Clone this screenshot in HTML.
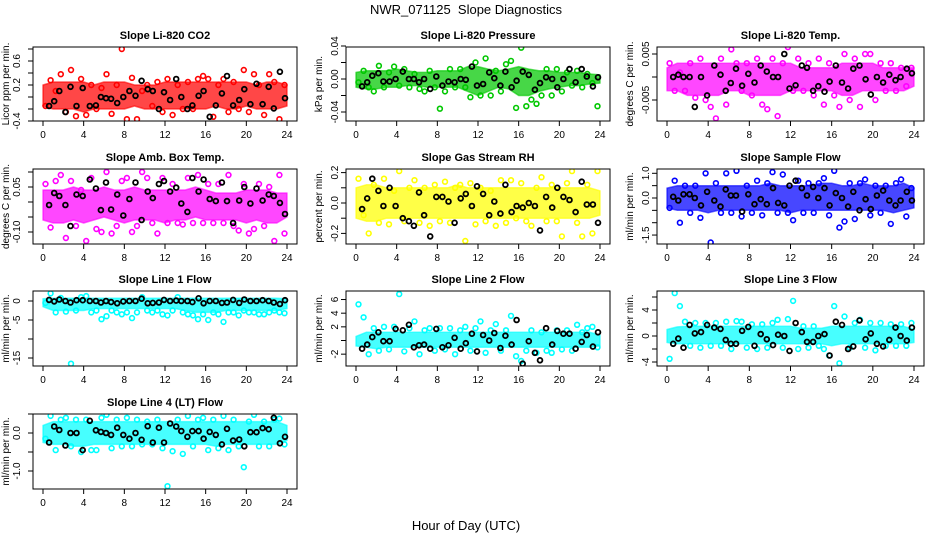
<!DOCTYPE html>
<html><head><meta charset="utf-8"><style>
html,body{margin:0;padding:0;background:#fff;}
svg{display:block;font-family:"Liberation Sans",Arial,sans-serif;}
</style></head><body>
<svg id="chart" width="936" height="540" viewBox="0 0 936 540" xmlns="http://www.w3.org/2000/svg">
<text x="466" y="14" text-anchor="middle" font-size="13">NWR_071125&#160;&#160;Slope Diagnostics</text>
<text x="466" y="530" text-anchor="middle" font-size="13">Hour of Day (UTC)</text>
</svg>
<script>
const blackHours=[0.6,1.1,1.6,2.2,2.7,3.3,3.9,4.6,5.2,5.7,6.2,6.7,7.3,7.9,8.5,9.1,9.7,10.3,10.8,11.4,11.9,12.5,13.1,13.6,14.2,14.7,15.3,15.8,16.4,17.0,17.6,18.1,18.7,19.3,19.8,20.4,21.0,21.6,22.2,22.7,23.3,23.8];
const colorHours=[0.25,0.75,1.25,1.75,2.25,2.75,3.25,3.75,4.25,4.75,5.25,5.75,6.25,6.75,7.25,7.75,8.25,8.75,9.25,9.75,10.25,10.75,11.25,11.75,12.25,12.75,13.25,13.75,14.25,14.75,15.25,15.75,16.25,16.75,17.25,17.75,18.25,18.75,19.25,19.75,20.25,20.75,21.25,21.75,22.25,22.75,23.25,23.75];
const bandHours=[0,1,2,3,4,5,6,7,8,9,10,11,12,13,14,15,16,17,18,19,20,21,22,23,24];
const xTicks=[0,4,8,12,16,20,24];

// P1 CO2
const co2Lo=[-0.15,-0.2,-0.2,-0.2,-0.25,-0.2,-0.2,-0.2,-0.2,-0.15,-0.2,-0.2,-0.2,-0.2,-0.2,-0.2,-0.2,-0.15,-0.2,-0.2,-0.15,-0.2,-0.2,-0.2,-0.15];
const co2Hi=[0.2,0.25,0.25,0.25,0.25,0.2,0.25,0.25,0.25,0.2,0.2,0.2,0.25,0.25,0.25,0.25,0.25,0.25,0.25,0.25,0.25,0.2,0.25,0.25,0.2];
const co2Color=[-0.15,0.28,0.1,0.38,-0.25,0.45,-0.32,0.3,-0.3,0.2,-0.2,0.15,0.38,-0.28,0.2,0.8,-0.37,0.32,-0.37,0.1,0.2,-0.15,0.25,-0.25,0.3,-0.3,0.2,-0.2,0.25,-0.2,0.3,0.35,0.3,-0.33,0.2,0.3,-0.25,0.25,-0.2,0.45,-0.25,0.38,0.2,-0.3,0.38,0.25,-0.37,0.2];
const co2Black=[-0.15,-0.07,0.1,-0.25,0.17,-0.15,0.15,-0.15,-0.14,0.0,-0.02,-0.03,-0.1,0.0,0.1,0.02,0.27,0.13,0.1,-0.2,0.08,-0.05,0.3,0.0,-0.2,-0.14,0.02,0.1,-0.33,-0.14,0.06,0.35,-0.14,-0.05,0.13,-0.12,0.22,-0.12,0.17,-0.19,0.42,-0.02];
const co2Ticks=[-0.4,-0.2,0,0.2,0.4,0.6,0.8];
const co2Labels=[[0.6,"0.6"],[0.2,"0.2"],[-0.4,"-0.4"]];

// P2 Pressure
const prLo=[-0.01,-0.012,-0.012,-0.01,-0.01,-0.008,-0.008,-0.01,-0.01,-0.01,-0.01,-0.015,-0.02,-0.015,-0.01,-0.012,-0.02,-0.02,-0.015,-0.012,-0.01,-0.008,-0.008,-0.006,-0.005];
const prHi=[0.008,0.01,0.01,0.01,0.012,0.01,0.008,0.008,0.01,0.01,0.01,0.015,0.015,0.012,0.01,0.012,0.015,0.012,0.01,0.01,0.008,0.008,0.008,0.006,0.005];
const prColor=[-0.004,0.01,-0.01,-0.015,0.016,-0.01,0.008,0.015,-0.008,0.012,-0.01,0.006,-0.012,-0.015,0.01,-0.01,-0.036,-0.015,0.012,-0.01,0.012,-0.01,-0.022,0.02,-0.02,0.025,-0.02,0.01,-0.015,0.018,0.022,-0.035,0.038,-0.033,-0.025,-0.03,-0.02,0.012,-0.02,0.012,-0.015,0.008,-0.008,0.01,-0.01,0.006,-0.005,-0.033];
const prBlack=[-0.009,-0.004,0.004,0.007,-0.003,-0.003,0.0,0.009,0.0,0.0,-0.004,0.0,-0.012,0.003,-0.008,-0.003,-0.004,0.0,-0.001,0.015,-0.008,-0.006,0.008,0.001,-0.008,0.009,-0.01,-0.002,0.009,0.005,-0.013,-0.005,0.002,0.0,-0.01,0.0,0.012,-0.004,0.012,0.003,-0.009,0.002];
const prTicks=[-0.04,-0.02,0,0.02,0.04];
const prLabels=[[0.04,"0.04"],[0,"0.00"],[-0.04,"-0.04"]];

// P3 Li-820 Temp
const ltLo=[-0.003,-0.003,-0.004,-0.004,-0.004,-0.004,-0.003,-0.003,-0.004,-0.004,-0.004,-0.004,-0.003,-0.003,-0.003,-0.003,-0.003,-0.004,-0.004,-0.003,-0.003,-0.003,-0.003,-0.003,-0.002];
const ltHi=[0.002,0.003,0.003,0.003,0.003,0.003,0.003,0.003,0.003,0.003,0.003,0.003,0.003,0.002,0.002,0.002,0.002,0.003,0.003,0.003,0.003,0.002,0.002,0.002,0.002];
const ltColor=[0.003,-0.003,0.001,-0.003,0.003,-0.0045,0.004,-0.005,-0.0065,-0.009,0.004,-0.006,0.006,0.003,-0.003,0.003,-0.004,0.004,-0.006,-0.007,0.004,-0.0085,0.003,0.0065,-0.003,0.004,-0.003,0.003,-0.004,0.004,-0.006,0.003,-0.004,-0.0065,0.005,-0.005,0.004,-0.0065,0.005,0.005,-0.005,0.003,-0.003,0.003,-0.003,0.002,-0.002,0.002];
const ltBlack=[0,0.0005,0,0,-0.0065,0,-0.004,0.0025,0.0005,-0.003,-0.0013,0.0018,-0.0019,0.0007,-0.0012,0.0025,0.0012,0,0,0.005,-0.0025,-0.0018,0.0025,0.002,-0.003,-0.002,-0.0032,-0.001,0.0025,-0.0012,-0.0025,0.0018,0.0025,-0.0005,-0.0038,0,-0.0012,0.0005,-0.0007,0,0.0018,0.0008];
const ltTicks=[-0.005,0,0.005];
const ltLabels=[[0.005,"0.005"],[-0.005,"-0.005"]];

// P4 Amb Box Temp
const abLo=[-0.06,-0.07,-0.07,-0.06,-0.07,-0.06,-0.05,-0.06,-0.07,-0.06,-0.06,-0.06,-0.07,-0.06,-0.06,-0.05,-0.06,-0.06,-0.06,-0.06,-0.07,-0.06,-0.07,-0.07,-0.05];
const abHi=[0.04,0.04,0.04,0.05,0.04,0.04,0.05,0.04,0.04,0.05,0.04,0.04,0.04,0.04,0.04,0.05,0.04,0.03,0.03,0.03,0.04,0.04,0.04,0.03,0.03];
const abColor=[0.06,-0.085,0.07,0.09,-0.12,0.07,-0.08,0.04,-0.13,0.08,-0.09,-0.1,0.1,-0.105,-0.08,0.07,0.08,-0.1,-0.08,0.1,0.08,-0.07,-0.105,0.08,-0.07,0.06,-0.07,-0.075,0.08,-0.07,0.09,-0.07,0.06,-0.07,0.06,-0.07,0.09,-0.08,-0.095,0.06,-0.105,-0.09,0.06,-0.08,0.05,-0.13,0.09,-0.105];
const abBlack=[-0.01,0.03,0.02,-0.01,-0.08,0.025,0.02,0.075,0.045,-0.027,0.065,-0.025,0.025,-0.045,0.01,0.065,-0.06,0.035,0.013,0.06,0.07,0.035,0.048,-0.005,-0.033,0.08,0.035,0.075,0.01,0.003,0.065,0.003,-0.07,0.005,0.05,-0.005,0.045,0.005,0.025,0.02,-0.003,-0.04];
const abTicks=[-0.1,-0.05,0,0.05,0.1];
const abLabels=[[0.05,"0.05"],[-0.1,"-0.10"]];

// P5 Gas Stream RH
const rhLo=[-0.1,-0.12,-0.12,-0.1,-0.1,-0.1,-0.1,-0.1,-0.1,-0.1,-0.1,-0.1,-0.1,-0.1,-0.1,-0.1,-0.1,-0.1,-0.1,-0.1,-0.1,-0.1,-0.1,-0.1,-0.08];
const rhHi=[0.1,0.12,0.12,0.1,0.1,0.1,0.1,0.1,0.1,0.1,0.12,0.1,0.1,0.1,0.1,0.1,0.1,0.1,0.1,0.1,0.1,0.1,0.1,0.1,0.08];
const rhColor=[0.16,-0.08,-0.2,0.12,-0.13,0.16,-0.14,0.08,0.21,-0.12,0.1,0.15,-0.13,0.1,-0.15,0.12,-0.12,0.14,-0.13,0.1,0.12,-0.25,0.13,-0.14,0.1,-0.12,0.08,-0.15,0.15,-0.13,0.15,-0.1,0.13,-0.12,-0.15,0.1,0.17,-0.12,0.12,-0.12,-0.22,0.13,0.21,-0.13,-0.22,0.12,-0.2,0.21];
const rhBlack=[-0.04,0.03,0.16,0.08,-0.02,0.1,-0.02,-0.1,-0.12,-0.15,0.07,-0.08,-0.22,0.04,0.04,0.01,-0.13,0.03,0.06,-0.02,0.11,0.06,-0.08,0.01,-0.07,0.12,-0.06,-0.02,-0.03,0.0,-0.02,-0.18,0.04,-0.03,0.1,0.04,0.02,-0.06,0.14,-0.01,-0.01,-0.13];
const rhTicks=[-0.2,-0.1,0,0.1,0.2];
const rhLabels=[[0.2,"0.2"],[0,"0.0"],[-0.2,"-0.2"]];

// P6 Sample Flow
const sfLo=[-0.4,-0.5,-0.5,-0.5,-0.6,-0.5,-0.5,-0.5,-0.5,-0.5,-0.5,-0.5,-0.6,-0.5,-0.5,-0.5,-0.5,-0.5,-0.5,-0.5,-0.5,-0.5,-0.6,-0.5,-0.4];
const sfHi=[0.4,0.5,0.5,0.5,0.5,0.5,0.5,0.5,0.5,0.5,0.6,0.5,0.5,0.5,0.5,0.6,0.6,0.5,0.5,0.6,0.5,0.5,0.5,0.6,0.4];
const sfColor=[-0.4,0.7,-1.0,0.5,-0.6,0.5,-0.8,1.0,-1.8,0.6,-0.6,1.0,-0.6,1.1,-0.75,0.5,-0.6,0.7,-0.7,0.6,1.05,-0.6,0.95,-0.6,-0.9,0.7,-0.6,0.6,-0.6,0.6,0.8,-0.7,1.1,-1.2,-0.95,0.6,-0.85,0.6,0.75,-0.7,0.5,-0.6,0.5,-1.05,0.6,0.75,-0.75,0.4];
const sfBlack=[0.05,-0.1,0.15,0.15,0.0,-0.3,0.25,-0.1,-0.35,0.35,0.1,0.1,-0.55,0.15,-0.25,-0.05,-0.25,0.4,-0.2,-0.3,0.5,0.7,0.4,0.1,0.45,0.0,0.4,-0.3,0.2,0.0,-0.35,0.25,-0.5,-0.05,-0.45,0.1,0.3,-0.1,-0.3,-0.1,0.25,-0.1];
const sfTicks=[-1.5,-1,-0.5,0,0.5,1];
const sfLabels=[[1,"1.0"],[0,"0.0"],[-1.5,"-1.5"]];

// P7 Line 1
const l1Lo=[-1.5,-2.5,-2.5,-2.5,-2.5,-2,-2,-2,-2,-2,-2,-2,-2,-2,-2.5,-3,-3,-3,-2.5,-2.5,-2.5,-2.5,-2.5,-2.5,-2];
const l1Hi=[0.6,0.7,0.7,0.7,0.7,0.7,0.7,0.7,0.7,0.7,0.7,0.7,0.7,0.7,0.7,0.7,0.7,0.7,0.7,0.7,0.7,0.7,0.7,0.7,0.6];
const l1Color=[-0.5,2.0,-3.0,0.8,-2.8,-16.5,-2.5,1.0,1.3,-3.0,-2.5,-4.8,-4.0,-2.5,-3.0,-3.5,-3.0,-4.5,-3.0,1.0,-2.5,-3.0,-2.5,-3.5,-3.8,-2.5,1.0,-3.0,-3.5,-3.8,-4.8,-3.5,-5.0,-3.0,-3.5,-5.5,-3.0,-3.0,-3.8,-2.5,-3.0,-3.0,-3.5,-3.5,-3.0,-2.5,-3.0,-3.2];
const l1Black=[0.3,-0.1,0.4,0,-0.4,0.2,0.2,0,0,-0.4,0,-0.3,-0.6,-0.1,0,0,0.6,-0.6,-0.5,-0.4,0.3,0,0.1,0,0,-0.3,0.7,-0.6,0,0,-0.5,-0.4,0.3,-0.5,0.4,0,0,0.2,0,-0.4,-0.8,0.2];
const l1Ticks=[-15,-10,-5,0];
const l1Labels=[[0,"0"],[-5,"-5"],[-15,"-15"]];

// P8 Line 2
const l2Lo=[-0.8,-1,-1.2,-1,-1,-1,-1,-1,-1,-1,-1,-1,-1,-1,-1,-1,-1,-1,-1,-1,-1,-1,-1,-1,-0.8];
const l2Hi=[0.6,1.2,1.2,1.2,1.2,1.2,1.2,1.2,1.2,1.2,1.2,1.2,1.2,1.2,1.2,1.2,1.2,1.2,1.2,1.2,1.2,1.2,1.2,1.2,0.8];
const l2Color=[5.3,3.4,-2.0,1.8,-1.5,2.0,-1.3,2.0,6.8,-1.6,1.8,2.8,-2.0,1.5,1.8,-1.5,1.8,-1.3,1.8,-2.0,1.5,2.0,-1.5,1.8,2.8,-1.8,1.5,2.4,-1.5,1.5,3.6,-2.3,-3.0,-1.5,1.5,-1.8,1.2,-1.5,-1.8,1.5,-1.3,1.5,-1.5,2.3,1.2,1.8,2.0,-1.0];
const l2Black=[-1.2,-0.6,0.5,1.2,-0.1,-0.1,1.7,1.5,2.3,-1.0,-0.7,-0.6,-1.2,1.7,-1.0,-0.7,0.4,-1.2,-0.4,1.0,-1.6,0.8,0.0,1.1,-1.1,0.7,-0.6,3.0,-3.4,-0.1,-1.8,-2.9,1.8,-0.6,1.4,1.0,1.0,-1.2,-0.2,0.8,-0.9,1.2];
const l2Ticks=[-2,0,2,4,6];
const l2Labels=[[6,"6"],[4,"4"],[2,"2"],[-2,"-2"]];

// P9 Line 3
const l3Lo=[-1,-1.2,-1.2,-1.2,-1.2,-1.2,-1.2,-1.2,-1.2,-1.2,-1.2,-1.2,-1.2,-1.2,-1.2,-1.2,-1.5,-1.2,-1.2,-1.2,-1.2,-1.2,-1.2,-1.2,-1];
const l3Hi=[1,1.4,1.5,1.5,1.5,1.5,1.5,1.5,1.5,1.5,1.5,1.5,1.5,1.2,1.2,1.2,1.5,1.5,1.5,1.5,1.5,1.5,1.5,1.5,1];
const l3Color=[-3.5,6.6,4.6,2.2,-1.5,2.0,-1.8,2.0,-1.5,2.0,-1.5,2.2,-2.0,2.3,2.2,-1.8,1.8,-2.0,1.8,-1.8,2.0,2.5,-1.8,2.6,5.4,-2.0,1.5,-1.8,1.5,-1.5,-2.0,-3.0,4.6,-4.2,3.0,-1.8,2.0,2.5,-1.8,2.0,-2.2,2.0,-1.5,1.8,-1.5,1.8,-1.5,2.0];
const l3Black=[-1.2,-0.4,-1.8,1.7,0.4,0.6,1.7,1.3,1.1,-0.6,-1.2,-1.2,0.8,1.4,-1.5,0.3,-0.5,-1.4,0.2,0.0,-2.3,2.0,0.6,-0.9,-0.9,0.0,0.3,-3.0,2.2,1.7,-2.0,-1.6,2.4,-0.5,0.4,-1.2,-1.6,-0.6,1.3,0.0,-0.7,1.3];
const l3Ticks=[-4,-2,0,2,4,6];
const l3Labels=[[4,"4"],[0,"0"],[-4,"-4"]];

// P10 Line 4
const l4Lo=[-0.25,-0.3,-0.3,-0.35,-0.35,-0.3,-0.3,-0.3,-0.3,-0.3,-0.3,-0.3,-0.3,-0.3,-0.3,-0.3,-0.3,-0.35,-0.3,-0.3,-0.3,-0.3,-0.3,-0.3,-0.2];
const l4Hi=[0.2,0.3,0.3,0.3,0.3,0.3,0.3,0.3,0.3,0.3,0.3,0.3,0.3,0.3,0.3,0.3,0.3,0.3,0.3,0.3,0.3,0.3,0.3,0.3,0.2];
const l4Color=[-0.15,0.45,-0.45,0.35,0.4,-0.35,0.35,-0.5,0.35,-0.45,-0.45,0.4,0.48,-0.4,0.35,-0.35,0.4,-0.35,0.35,-0.3,0.3,-0.3,0.35,-0.4,-1.4,-0.48,0.35,-0.55,0.45,-0.35,0.35,0.4,-0.45,0.35,-0.4,0.45,-0.45,0.35,-0.35,-0.9,0.3,0.48,-0.35,0.3,-0.35,0.35,0.38,-0.3];
const l4Black=[-0.25,0.17,0.08,-0.33,0.0,0.0,-0.45,0.32,0.07,0.03,0.0,-0.05,0.14,-0.05,-0.15,0.0,-0.18,0.18,-0.25,0.14,-0.25,0.25,0.17,0.05,-0.1,0.05,0.05,-0.15,0.03,-0.05,-0.3,0.11,-0.2,-0.17,-0.35,0.02,0.02,0.13,0.1,0.4,-0.27,-0.1];
const l4Ticks=[-1,-0.5,0,0.5];
const l4Labels=[[0,"0.0"],[-1,"-1.0"]];

const cols=[{l:33,r:297,x0:43,x24:287,yl:9,tl:20},{l:346,r:610,x0:356,x24:600,yl:322,tl:338},{l:657,r:924,x0:667,x24:914,yl:633,tl:649}];
const rows=[{t:47,b:121},{t:169,b:244},{t:291,b:366},{t:414,b:489}];

const panels=[
 {name:"co2",title:"Slope Li-820 CO2",ylab:"Licor ppm per min.",color:"#ff0000",r:0,c:0,yz:97,k:60,lo:co2Lo,hi:co2Hi,cv:co2Color,bv:co2Black,ticks:co2Ticks,labels:co2Labels},
 {name:"pressure",title:"Slope Li-820 Pressure",ylab:"kPa per min.",color:"#00c800",r:0,c:1,yz:79,k:825,lo:prLo,hi:prHi,cv:prColor,bv:prBlack,ticks:prTicks,labels:prLabels},
 {name:"licor-temp",title:"Slope Li-820 Temp.",ylab:"degrees C per min.",color:"#ff00ff",r:0,c:2,yz:77,k:4600,lo:ltLo,hi:ltHi,cv:ltColor,bv:ltBlack,ticks:ltTicks,labels:ltLabels},
 {name:"amb-box-temp",title:"Slope Amb. Box Temp.",ylab:"degrees C per min.",color:"#ff00ff",r:1,c:0,yz:202,k:300,lo:abLo,hi:abHi,cv:abColor,bv:abBlack,ticks:abTicks,labels:abLabels},
 {name:"gas-stream-rh",title:"Slope Gas Stream RH",ylab:"percent per min.",color:"#ffff00",r:1,c:1,yz:203,k:152,lo:rhLo,hi:rhHi,cv:rhColor,bv:rhBlack,ticks:rhTicks,labels:rhLabels},
 {name:"sample-flow",title:"Slope Sample Flow",ylab:"ml/min per min.",color:"#0000ff",r:1,c:2,yz:198,k:24.7,lo:sfLo,hi:sfHi,cv:sfColor,bv:sfBlack,ticks:sfTicks,labels:sfLabels},
 {name:"line1-flow",title:"Slope Line 1 Flow",ylab:"ml/min per min.",color:"#00ffff",r:2,c:0,yz:301,k:3.8,lo:l1Lo,hi:l1Hi,cv:l1Color,bv:l1Black,ticks:l1Ticks,labels:l1Labels},
 {name:"line2-flow",title:"Slope Line 2 Flow",ylab:"ml/min per min.",color:"#00ffff",r:2,c:1,yz:340.5,k:6.83,lo:l2Lo,hi:l2Hi,cv:l2Color,bv:l2Black,ticks:l2Ticks,labels:l2Labels},
 {name:"line3-flow",title:"Slope Line 3 Flow",ylab:"ml/min per min.",color:"#00ffff",r:2,c:2,yz:336,k:6.5,lo:l3Lo,hi:l3Hi,cv:l3Color,bv:l3Black,ticks:l3Ticks,labels:l3Labels},
 {name:"line4-flow",title:"Slope Line 4 (LT) Flow",ylab:"ml/min per min.",color:"#00ffff",r:3,c:0,yz:433,k:38,lo:l4Lo,hi:l4Hi,cv:l4Color,bv:l4Black,ticks:l4Ticks,labels:l4Labels}
];

const NS="http://www.w3.org/2000/svg";
const svg=document.getElementById("chart");
function mk(tag,attrs,parent){const e=document.createElementNS(NS,tag);for(const k in attrs)e.setAttribute(k,attrs[k]);(parent||svg).appendChild(e);return e;}

panels.forEach(p=>{
 const C=cols[p.c],R=rows[p.r];
 const xs=h=>C.x0+(C.x24-C.x0)*h/24;
 const ys=v=>p.yz-p.k*v;
 const g=mk("g",{});
 
 
 const clipId="clip-"+p.name;
 const cp=mk("clipPath",{id:clipId},g);
 mk("rect",{x:C.l,y:R.t,width:C.r-C.l,height:R.b-R.t},cp);
 const plot=mk("g",{"clip-path":"url(#"+clipId+")"},g);
 
 
 let pts=[];
 bandHours.forEach((h,i)=>pts.push(xs(h).toFixed(1)+","+ys(p.hi[i]).toFixed(1)));
 for(let i=bandHours.length-1;i>=0;i--)pts.push(xs(bandHours[i]).toFixed(1)+","+ys(p.lo[i]).toFixed(1));
 const band=mk("polygon",{points:pts.join(" "),fill:p.color,"fill-opacity":"0.72",stroke:p.color,"stroke-opacity":"0.6","stroke-width":"1.5","stroke-linejoin":"round"},plot);
 
 
 p.cv.forEach((v,i)=>{
  const c=mk("circle",{cx:xs(colorHours[i]).toFixed(1),cy:ys(v).toFixed(1),r:2.4,fill:"none",stroke:p.color,"stroke-width":1.6},plot);
  
  
 });
 p.bv.forEach((v,i)=>{
  const c=mk("circle",{cx:xs(blackHours[i]).toFixed(1),cy:ys(v).toFixed(1),r:2.4,fill:"none",stroke:"#000","stroke-width":1.8},plot);
  
  
 });
 const box=mk("rect",{x:C.l,y:R.t,width:C.r-C.l,height:R.b-R.t,fill:"none",stroke:"#000","stroke-width":1},g);
 
 
 xTicks.forEach(t=>{
  const x=xs(t);
  mk("line",{x1:x,x2:x,y1:R.b,y2:R.b+5,stroke:"#000"},g);
  const tx=mk("text",{x:x,y:R.b+17,"text-anchor":"middle","font-size":"10"},g);
  tx.textContent=t;
  
  
 });
 mk("line",{x1:C.x0,x2:C.x24,y1:R.b,y2:R.b,stroke:"#000"},g);
 p.ticks.forEach(t=>{
  const y=ys(t);
  if(y<R.t-1||y>R.b+1)return;
  mk("line",{x1:C.l-5,x2:C.l,y1:y,y2:y,stroke:"#000"},g);
 });
 p.labels.forEach(L=>{
  const y=ys(L[0]);
  const tx=mk("text",{x:C.tl,y:y,"text-anchor":"middle","font-size":"10",transform:"rotate(-90 "+C.tl+" "+y+")"},g);
  tx.textContent=L[1];
  
  
 });
 const yl=mk("text",{x:C.yl,y:(R.t+R.b)/2,"text-anchor":"middle","font-size":"10",transform:"rotate(-90 "+C.yl+" "+((R.t+R.b)/2)+")"},g);
 yl.textContent=p.ylab;
 
 
 const ti=mk("text",{x:(C.l+C.r)/2,y:R.t-8,"text-anchor":"middle","font-size":"11","font-weight":"bold"},g);
 ti.textContent=p.title;
 
 
});
</script>
</body></html>
